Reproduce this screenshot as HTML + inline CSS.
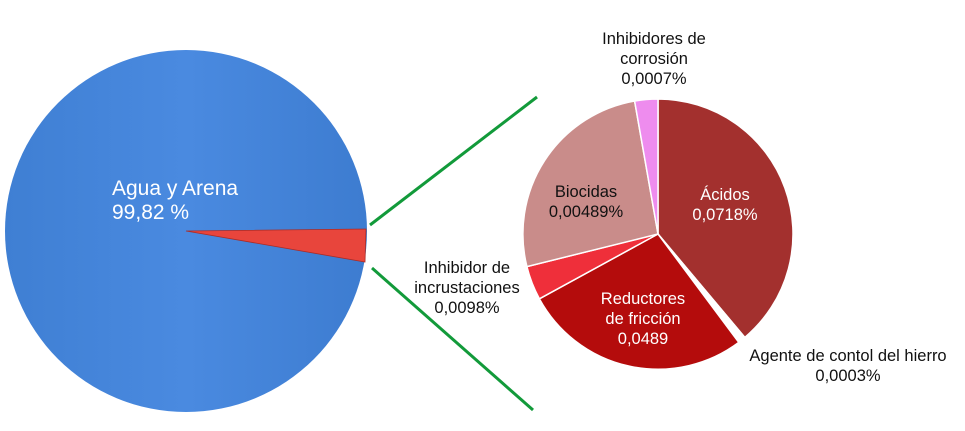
<!DOCTYPE html>
<html><head><style>
html,body{margin:0;padding:0;background:#fff;}
svg{display:block;font-family:"Liberation Sans",sans-serif;}
</style></head><body>
<svg width="965" height="431" viewBox="0 0 965 431">
<defs>
<linearGradient id="bl" x1="0" x2="1" y1="0" y2="0">
<stop offset="0" stop-color="#3f7fd3"/><stop offset="0.5" stop-color="#4a8ae0"/><stop offset="1" stop-color="#3d7cd0"/>
</linearGradient>
</defs>
<circle cx="186" cy="231" r="181" fill="url(#bl)"/>
<polygon points="186,231 366,229 365,262" fill="#e8453c" stroke="#a82c28" stroke-width="0.8"/>
<text x="112" y="195" fill="#fff" font-size="21">Agua y Arena</text>
<text x="112" y="219" fill="#fff" font-size="21">99,82 %</text>
<line x1="370" y1="225" x2="537" y2="97" stroke="#129a3a" stroke-width="3"/>
<line x1="372" y1="268" x2="533" y2="410" stroke="#129a3a" stroke-width="3"/>
<g stroke="#fff" stroke-width="1.5">
<path d="M658,234 L658,99 A135,135 0 0 1 744.8,337.4 Z" fill="#a3302e"/>
<path d="M658,234 L744.8,337.4 A135,135 0 0 1 738.8,342.4 Z" fill="#ffffff"/>
<path d="M658,234 L738.8,342.4 A135,135 0 0 1 539.4,298.8 Z" fill="#b40c0c"/>
<path d="M658,234 L539.4,298.8 A135,135 0 0 1 526.9,266.6 Z" fill="#ef2f3a"/>
<path d="M658,234 L526.9,266.6 A135,135 0 0 1 634.6,101.0 Z" fill="#c98c8a"/>
<path d="M658,234 L634.6,101.0 A135,135 0 0 1 658,99 Z" fill="#ee8cee"/>
</g>
<g font-size="16.5" text-anchor="middle">
<text x="586" y="197" fill="#111">Biocidas</text>
<text x="586" y="217" fill="#111">0,00489%</text>
<text x="725" y="200" fill="#fff">Ácidos</text>
<text x="725" y="220" fill="#fff">0,0718%</text>
<text x="643" y="304" fill="#fff">Reductores</text>
<text x="643" y="324" fill="#fff">de fricción</text>
<text x="643" y="344" fill="#fff">0,0489</text>
<text x="654" y="44" fill="#111">Inhibidores de</text>
<text x="654" y="64" fill="#111">corrosión</text>
<text x="654" y="84" fill="#111">0,0007%</text>
<text x="467" y="273" fill="#111">Inhibidor de</text>
<text x="467" y="293" fill="#111">incrustaciones</text>
<text x="467" y="313" fill="#111">0,0098%</text>
<text x="848" y="361" fill="#111">Agente de contol del hierro</text>
<text x="848" y="381" fill="#111">0,0003%</text>
</g>
</svg>
</body></html>
